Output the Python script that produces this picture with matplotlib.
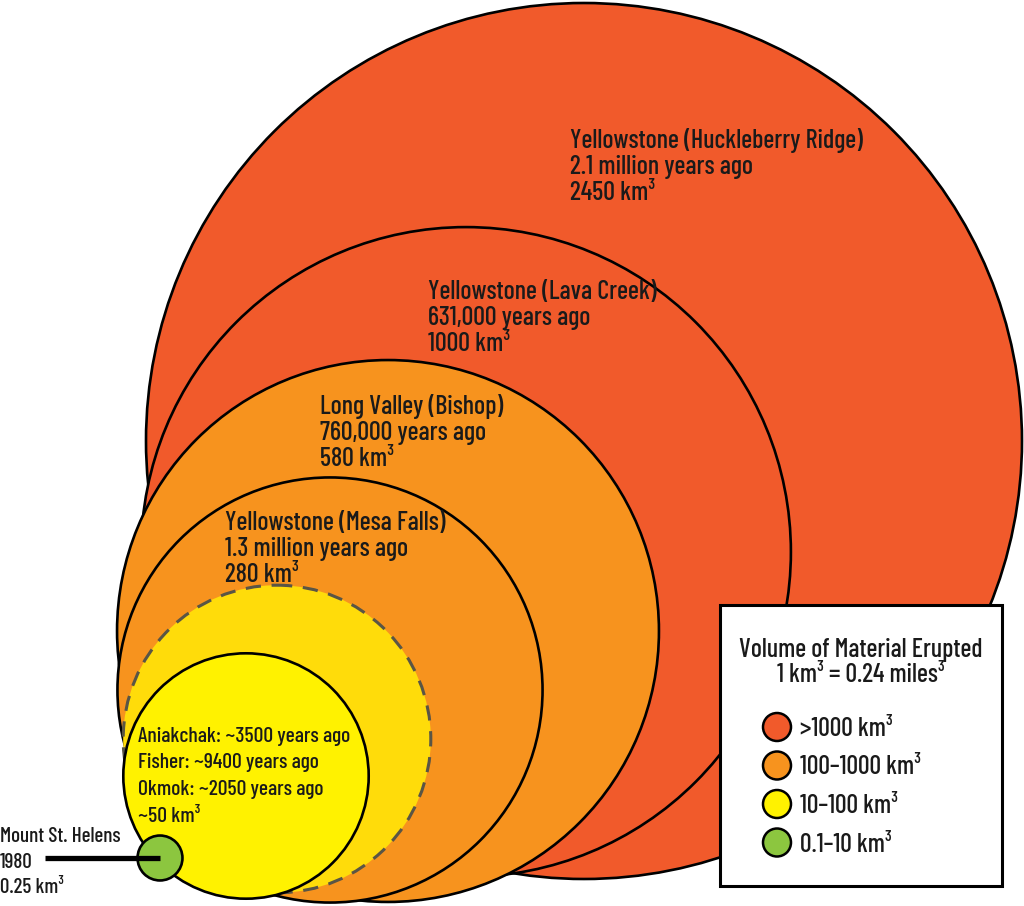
import matplotlib
matplotlib.use("Agg")
import matplotlib.pyplot as plt
from matplotlib import font_manager
from matplotlib.font_manager import FontProperties
from matplotlib.textpath import TextPath
from matplotlib.patches import Circle, Rectangle
import numpy as np

# --- data -------------------------------------------------------------
eruptions = ["Yellowstone (Huckleberry Ridge)", "Yellowstone (Lava Creek)",
             "Long Valley (Bishop)", "Yellowstone (Mesa Falls)"]
ages = ["2.1 million years ago", "631,000 years ago",
        "760,000 years ago", "1.3 million years ago"]
volumes = [2450, 1000, 580, 280]          # km3

boundary_volume = 100                      # dashed 10-100 / 100-1000 limit

small_eruptions = ["Aniakchak: ~3500 years ago", "Fisher: ~9400 years ago",
                   "Okmok: ~2050 years ago"]
small_volume = 50

msh_name = "Mount St. Helens"
msh_year = "1980"
msh_volume = 0.25

legend_title = ["Volume of Material Erupted", "1 km³ = 0.24 miles³"]
legend_labels = [">1000 km³", "100–1000 km³", "10–100 km³", "0.1–10 km³"]
legend_bins = [1000, 100, 10, 0.1]

# --- layout (pixel space of the 1024x906 canvas) ----------------------
big_centers = [(584, 441), (466, 552), (388, 631), (330, 690)]
big_labels = [(570, 148), (428, 299), (320, 414), (225, 530)]
boundary_center = (277, 739)
small_center = (246, 776)
small_label = (138, 742)
msh_center = (160, 858)
K = 438 / np.cbrt(2450)                    # px per cube-root km3

RED, ORANGE, GOLD, YELLOW, GREEN = "#F15A2B", "#F7931E", "#FFDC0A", "#FFF200", "#8CC63F"


def color_for(v):
    if v >= 1000:
        return RED
    if v >= 100:
        return ORANGE
    if v >= 10:
        return YELLOW
    return GREEN


def radius(v):
    return K * np.cbrt(v)


# condensed face standing in for Futura Condensed
WEIGHT = "medium"
installed = {f.name for f in font_manager.fontManager.ttflist}
FONT = next((f for f in ["Barlow Condensed", "Roboto Condensed"] if f in installed), "DejaVu Sans")
plt.rcParams["font.family"] = [FONT, "DejaVu Sans"]
plt.rcParams["font.weight"] = WEIGHT


def fit_size(sample, width_px, cap_px):
    # mostly match the width, a little of the cap height
    fp = FontProperties(family=FONT, weight=WEIGHT)
    w = TextPath((0, 0), sample, size=100, prop=fp).get_extents().width / 100
    h = TextPath((0, 0), "H", size=100, prop=fp).get_extents().height / 100
    s_w = width_px / (w * 100 / 72)
    s_h = cap_px / (h * 100 / 72)
    return s_w ** 0.75 * s_h ** 0.25


MAIN = fit_size(eruptions[0], 283, 20)
SMALL = fit_size(small_eruptions[0], 205, 16.5)
MSH = fit_size(msh_name, 118, 15)
LEG = fit_size(legend_title[0], 237, 19)

fig = plt.figure(figsize=(10.24, 9.06), dpi=100)
ax = fig.add_axes([0, 0, 1, 1])
ax.set_xlim(0, 1024)
ax.set_ylim(906, 0)
ax.set_aspect("equal")
ax.axis("off")

LW = 1.9
TXT = "#1a1a1a"


def lines_at(x, y, lines, size, gap):
    for i, s in enumerate(lines):
        ax.text(x, y + i * gap, s, fontsize=size, color=TXT,
                ha="left", va="baseline", zorder=20)


z = 1
for v, c, (lx, ly), name, age in zip(volumes, big_centers, big_labels, eruptions, ages):
    ax.add_patch(Circle(c, radius(v), facecolor=color_for(v), edgecolor="black",
                        linewidth=LW, zorder=z))
    lines_at(lx, ly, [name, age, f"{v} km³"], MAIN, 26)
    z += 1

ax.add_patch(Circle(boundary_center, radius(boundary_volume) + 3, facecolor=GOLD,
                    edgecolor="#5a5545", linewidth=2.2, linestyle=(0, (5, 3.5)), zorder=z))
z += 1
ax.add_patch(Circle(small_center, radius(small_volume) + 3, facecolor=color_for(small_volume),
                    edgecolor="black", linewidth=LW, zorder=z))
lines_at(small_label[0], small_label[1], small_eruptions + [f"~{small_volume} km³"], SMALL, 26.5)
z += 1

ax.add_patch(Circle(msh_center, radius(msh_volume) + 2, facecolor=color_for(msh_volume),
                    edgecolor="black", linewidth=LW, zorder=z))
ax.plot([45, msh_center[0]], [msh_center[1], msh_center[1]], color="black",
        linewidth=3.8, solid_capstyle="butt", zorder=z + 1)
lines_at(0, 842, [msh_name, msh_year, f"{msh_volume} km³"], MSH, 25.5)

# --- legend box -------------------------------------------------------
ax.add_patch(Rectangle((720, 605), 282, 281, facecolor="white", edgecolor="black",
                       linewidth=2.2, zorder=30))
for i, s in enumerate(legend_title):
    ax.text(861, 657 + i * 25, s, fontsize=LEG, color=TXT,
            ha="center", va="baseline", zorder=31)
for i, (lab, b) in enumerate(zip(legend_labels, legend_bins)):
    y = 727 + i * 38.5
    ax.add_patch(Circle((777, y), 14, facecolor=color_for(b), edgecolor="black",
                        linewidth=1.8, zorder=31))
    ax.text(800, y + 9, lab, fontsize=LEG, color=TXT, ha="left", va="baseline", zorder=31)

fig.savefig("out.png", dpi=100, facecolor="white")
